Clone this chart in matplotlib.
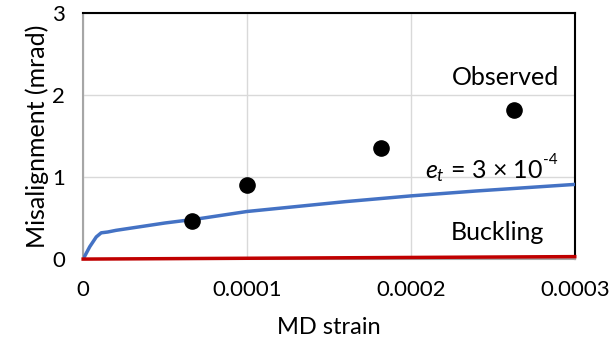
import matplotlib
matplotlib.use("Agg")
import matplotlib.pyplot as plt

plt.rcParams['font.family'] = ['Lato', 'DejaVu Sans']
plt.rcParams['mathtext.fontset'] = 'custom'
plt.rcParams['mathtext.it'] = 'Lato:italic'
plt.rcParams['mathtext.rm'] = 'Lato'

# observed misalignment
obs_strain = [0.0000667, 0.0001, 0.000182, 0.000263]
obs_mis = [0.46, 0.90, 1.35, 1.82]

# model curve, e_t = 3e-4
model_strain = [0, 0.000004, 0.000008, 0.000011, 0.000015, 0.00002, 0.00003, 0.00004,
                0.00005, 0.00007, 0.0001, 0.00013, 0.00016, 0.0002, 0.00024, 0.00027, 0.0003]
model_mis = [0, 0.15, 0.27, 0.32, 0.33, 0.35, 0.38, 0.41, 0.44, 0.49, 0.58, 0.64, 0.70, 0.77, 0.83, 0.87, 0.91]

# buckling curve
buck_strain = [0, 0.0001, 0.0002, 0.0003]
buck_mis = [0, 0.01, 0.02, 0.03]

xticks = [0, 0.0001, 0.0002, 0.0003]
xticklabels = ['0', '0.0001', '0.0002', '0.0003']
yticks = [0, 1, 2, 3]

fig = plt.figure(figsize=(6.16, 3.40), dpi=100)
ax = fig.add_axes([0.135, 0.238, 0.798, 0.724])

ax.plot(model_strain, model_mis, color='#4472C4', lw=2.5, zorder=3)
ax.plot(buck_strain, buck_mis, color='#C00000', lw=2.5, zorder=3, clip_on=False)
ax.scatter(obs_strain, obs_mis, s=120, color='black', zorder=4)

ax.set_xlim(0, 0.0003)
ax.set_ylim(0, 3)
ax.set_xticks(xticks)
ax.set_xticklabels(xticklabels)
ax.set_yticks(yticks)
ax.grid(True, color='#D9D9D9', lw=1)
ax.set_axisbelow(True)
ax.tick_params(length=0, labelsize=16)
ax.tick_params(axis='x', pad=15)
ax.tick_params(axis='y', pad=13)

for side in ('top', 'right'):
    ax.spines[side].set_color('black')
    ax.spines[side].set_linewidth(1.5)
for side in ('left', 'bottom'):
    ax.spines[side].set_color('#A6A6A6')
    ax.spines[side].set_linewidth(1.5)

ax.set_xlabel('MD strain', fontsize=17, labelpad=12)
ax.set_ylabel('Misalignment (mrad)', fontsize=18, labelpad=2)

ax.text(0.000258, 2.21, 'Observed', fontsize=18, ha='center', va='center')
ax.text(0.0002805, 1.07, r'$e_t$ = 3 × 10', fontsize=18, ha='right', va='center')
ax.annotate('-4', xy=(0.0002805, 1.07), xytext=(0.5, 3), textcoords='offset points',
            fontsize=11, ha='left', va='bottom')
ax.text(0.000253, 0.32, 'Buckling', fontsize=18, ha='center', va='center')

fig.savefig('out.png', dpi=100)
